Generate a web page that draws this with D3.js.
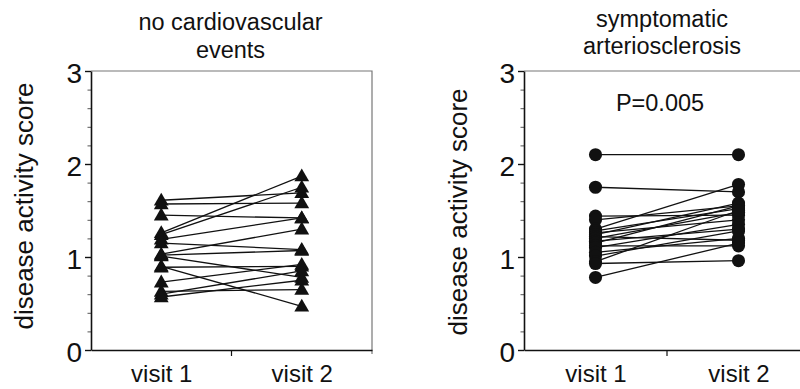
<!DOCTYPE html>
<html>
<head>
<meta charset="utf-8">
<script src="https://cdn.jsdelivr.net/npm/d3@7"></script>
<style>
  body { margin: 0; background: #fff; }
  svg { display: block; font-family: "Liberation Sans", Arial, sans-serif; }
</style>
</head>
<body>
<svg id="chart" width="800" height="389"></svg>
<script>
// visits on the x axis
const visits = ['visit 1', 'visit 2'];
const yTicks = [0, 1, 2, 3];

// no cardiovascular events (triangles)
const noCvVisit1 = [1.61, 1.57, 1.45, 1.26, 1.24, 1.19, 1.15, 1.03, 1.02, 1.01, 0.90, 0.89, 0.73, 0.63, 0.60, 0.57];
const noCvVisit2 = [1.69, 1.58, 1.42, 1.87, 1.75, 1.42, 1.08, 1.30, 1.07, 0.78, 0.47, 0.90, 0.92, 0.65, 0.85, 0.75];

// symptomatic arteriosclerosis (circles)
const athVisit1 = [2.10, 1.75, 1.44, 1.40, 1.30, 1.28, 1.26, 1.24, 1.22, 1.20, 1.17, 1.15, 1.12, 1.10, 1.05, 1.01, 0.95, 0.93, 0.78];
const athVisit2 = [2.10, 1.70, 1.45, 1.55, 1.78, 1.52, 1.40, 1.58, 1.18, 1.48, 1.30, 1.55, 1.12, 1.35, 1.20, 1.28, 1.50, 0.96, 1.15];

const svg = d3.select('#chart');
const ink = '#111';

function drawPanel(opts) {
  const { left, right, title, titleY, titleGap, v1, v2, marker, yLabelX, yLabelY, note } = opts;
  const top = 71, bottom = 350;

  const x = d3.scalePoint().domain(visits).range([left, right]).padding(0.5);
  const y = d3.scaleLinear().domain([0, 3]).range([bottom, top]);

  const g = svg.append('g');

  // frame (top and right)
  g.append('path')
    .attr('d', `M${left},${top}H${right}V${bottom + 4}`)
    .attr('fill', 'none')
    .attr('stroke', '#777')
    .attr('stroke-width', 1.2);

  // minor ticks every 0.2
  g.append('g')
    .attr('transform', `translate(${left},0)`)
    .call(d3.axisLeft(y).tickValues(d3.range(0, 3.01, 0.2)).tickSize(3.5).tickFormat(''))
    .call(a => a.select('.domain').remove())
    .selectAll('line').attr('stroke', '#555');

  // y axis
  const ya = g.append('g')
    .attr('transform', `translate(${left},0)`)
    .call(d3.axisLeft(y).tickValues(yTicks).tickSize(6).tickPadding(3).tickSizeOuter(0).tickFormat(d3.format('d')));
  ya.select('.domain').attr('stroke', ink).attr('stroke-width', 1.6);
  ya.selectAll('line').attr('stroke', ink).attr('stroke-width', 1.4);
  ya.selectAll('text').attr('font-size', 28).attr('fill', ink).attr('dy', '0.42em');

  // x axis
  const xa = g.append('g')
    .attr('transform', `translate(0,${bottom})`)
    .call(d3.axisBottom(x).tickSize(0).tickPadding(15).tickSizeOuter(0));
  xa.select('.domain').attr('stroke', ink).attr('stroke-width', 1.6);
  xa.selectAll('text').attr('font-size', 24).attr('fill', ink);
  g.append('line')
    .attr('x1', (left + right) / 2).attr('x2', (left + right) / 2)
    .attr('y1', bottom).attr('y2', bottom + 6)
    .attr('stroke', ink).attr('stroke-width', 1.2);

  // y label
  g.append('text')
    .attr('transform', `translate(${yLabelX},${yLabelY}) rotate(-90)`)
    .attr('text-anchor', 'middle')
    .attr('font-size', 26)
    .attr('fill', ink)
    .text('disease activity score');

  // title
  g.append('text')
    .attr('text-anchor', 'middle')
    .attr('font-size', 23.5)
    .attr('fill', ink)
    .selectAll('tspan')
    .data(title)
    .join('tspan')
    .attr('x', (left + right) / 2 - opts.titleShift)
    .attr('y', (d, i) => titleY + i * titleGap)
    .text(d => d);

  if (note) {
    g.append('text')
      .attr('x', (left + right) / 2 - 7)
      .attr('y', y(2.57))
      .attr('text-anchor', 'middle')
      .attr('font-size', 23.5)
      .attr('fill', ink)
      .text(note);
  }

  const pairs = v1.map((d, i) => [d, v2[i]]);

  g.append('g')
    .selectAll('line')
    .data(pairs)
    .join('line')
    .attr('x1', x(visits[0])).attr('x2', x(visits[1]))
    .attr('y1', d => y(d[0])).attr('y2', d => y(d[1]))
    .attr('stroke', ink)
    .attr('stroke-width', 1.3);

  const pts = pairs.flatMap(d => [{ v: visits[0], y: d[0] }, { v: visits[1], y: d[1] }]);
  const sym = d3.symbol().type(marker === 'triangle' ? d3.symbolTriangle : d3.symbolCircle)
    .size(marker === 'triangle' ? 95 : 135);
  g.append('g')
    .selectAll('path')
    .data(pts)
    .join('path')
    .attr('transform', d => `translate(${x(d.v)},${y(d.y) + (marker === 'triangle' ? 1 : 0)})`)
    .attr('d', sym)
    .attr('fill', ink);
}

drawPanel({
  left: 91, right: 372,
  title: ['no cardiovascular', 'events'], titleY: 30, titleGap: 28, titleShift: 1,
  v1: noCvVisit1, v2: noCvVisit2, marker: 'triangle',
  yLabelX: 33, yLabelY: 206
});

drawPanel({
  left: 524, right: 810,
  title: ['symptomatic', 'arteriosclerosis'], titleY: 27, titleGap: 27, titleShift: 5,
  v1: athVisit1, v2: athVisit2, marker: 'circle',
  yLabelX: 467, yLabelY: 212, note: 'P=0.005'
});
</script>
</body>
</html>
